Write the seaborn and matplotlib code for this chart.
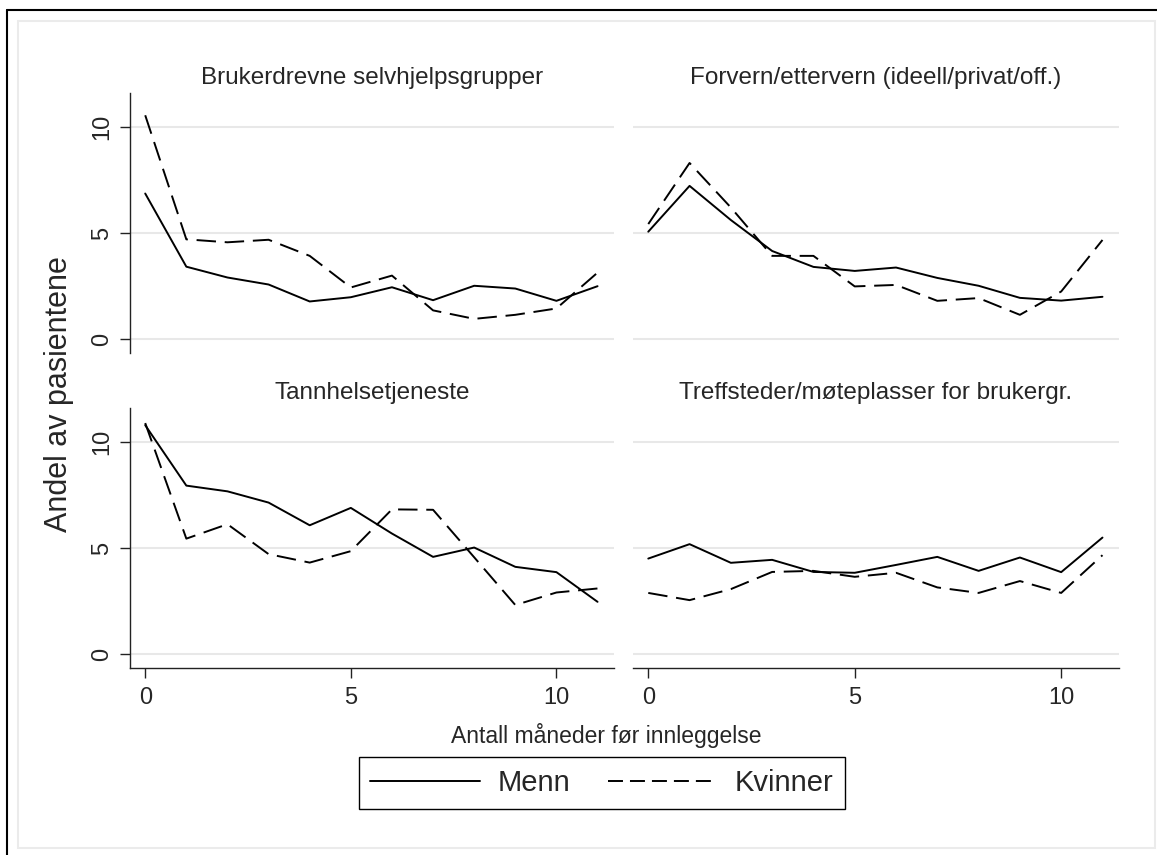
import pandas as pd
import numpy as np
import matplotlib
matplotlib.use('Agg')
import matplotlib.pyplot as plt
import seaborn as sns
from matplotlib.lines import Line2D
from matplotlib.patches import Rectangle

# --- data ---
months = list(range(12))
panel_titles = ['Brukerdrevne selvhjelpsgrupper',
                'Forvern/ettervern (ideell/privat/off.)',
                'Tannhelsetjeneste',
                'Treffsteder/møteplasser for brukergr.']
brukerdrevne_menn = [6.86, 3.41, 2.90, 2.57, 1.77, 1.97, 2.44, 1.83, 2.51, 2.38, 1.80, 2.49]
brukerdrevne_kvinner = [10.55, 4.70, 4.56, 4.68, 3.92, 2.43, 2.99, 1.35, 0.95, 1.14, 1.44, 3.13]
forvern_menn = [5.06, 7.22, 5.61, 4.15, 3.40, 3.21, 3.37, 2.88, 2.51, 1.94, 1.81, 1.99]
forvern_kvinner = [5.42, 8.30, 6.20, 3.92, 3.92, 2.48, 2.55, 1.80, 1.93, 1.14, 2.24, 4.67]
tannhelse_menn = [10.79, 7.94, 7.67, 7.14, 6.07, 6.89, 5.68, 4.58, 5.02, 4.11, 3.86, 2.46]
tannhelse_kvinner = [10.89, 5.44, 6.12, 4.71, 4.31, 4.85, 6.82, 6.80, 4.56, 2.31, 2.90, 3.09]
treffsteder_menn = [4.50, 5.18, 4.30, 4.44, 3.87, 3.83, 4.20, 4.58, 3.92, 4.55, 3.86, 5.49]
treffsteder_kvinner = [2.88, 2.54, 3.06, 3.87, 3.92, 3.64, 3.83, 3.14, 2.88, 3.44, 2.88, 4.66]
groups = ['Menn', 'Kvinner']
ytick_vals = [0, 5, 10]
xtick_vals = [0, 5, 10]

series = [(brukerdrevne_menn, brukerdrevne_kvinner),
          (forvern_menn, forvern_kvinner),
          (tannhelse_menn, tannhelse_kvinner),
          (treffsteder_menn, treffsteder_kvinner)]

sns.set_style('white')
plt.rcParams['font.family'] = ['Liberation Sans', 'DejaVu Sans']

W, H = 1157, 855
fig = plt.figure(figsize=(W / 100, H / 100), dpi=100)

# frame lines like the Stata export
fig.add_artist(Line2D([7 / W, 1], [1 - 10 / H, 1 - 10 / H], transform=fig.transFigure, color='black', lw=1.5))
fig.add_artist(Line2D([7 / W, 7 / W], [0, 1 - 10 / H], transform=fig.transFigure, color='black', lw=1.5))
fig.add_artist(Rectangle((18 / W, 1 - 848 / H), (1155 - 18) / W, (848 - 21) / H, transform=fig.transFigure,
                         fill=False, edgecolor='#ebebeb', lw=1.5))

# panel boxes in pixels: (left, top, right, bottom)
boxes = [(130, 93, 614, 353), (633, 93, 1119, 353),
         (130, 408, 614, 668), (633, 408, 1119, 668)]
dash_map = {'Menn': '', 'Kvinner': (10, 4.5)}

for i, (box, title, (menn, kvinner)) in enumerate(zip(boxes, panel_titles, series)):
    l, t, r, b = box
    ax = fig.add_axes([l / W, 1 - b / H, (r - l) / W, (b - t) / H])
    df = pd.DataFrame({'month': months * 2,
                       'andel': menn + kvinner,
                       'kjonn': ['Menn'] * len(months) + ['Kvinner'] * len(months)})
    sns.lineplot(data=df, x='month', y='andel', style='kjonn', style_order=groups,
                 dashes=dash_map, color='black', lw=1.4, legend=False, ax=ax)
    ax.set_xlim(-0.37, 11.4)
    ax.set_ylim(-0.66, 11.6)
    ax.set_yticks(ytick_vals)
    ax.set_xticks(xtick_vals)
    ax.yaxis.grid(True, color='#e8e8e8', lw=1.5)
    ax.xaxis.grid(False)
    ax.set_axisbelow(True)
    ax.set_xlabel('')
    ax.set_ylabel('')
    ax.set_title(title, fontsize=17.5, pad=6.5)
    for s in ['top', 'right', 'left', 'bottom']:
        ax.spines[s].set_visible(False)
    if i % 2 == 0:
        ax.spines['left'].set_visible(True)
        ax.spines['left'].set_color('#222222')
        ax.spines['left'].set_linewidth(1.0)
        ax.tick_params(axis='y', left=True, length=7, width=1.0, color='#222222',
                       labelsize=17, pad=5, labelrotation=90)
        for lab in ax.get_yticklabels():
            lab.set_va('center')
    else:
        ax.tick_params(axis='y', left=False, labelleft=False)
    if i >= 2:
        ax.spines['bottom'].set_visible(True)
        ax.spines['bottom'].set_color('#222222')
        ax.spines['bottom'].set_linewidth(1.0)
        ax.tick_params(axis='x', bottom=True, length=7, width=1.0, color='#222222',
                       labelsize=17, pad=7)
    else:
        ax.tick_params(axis='x', bottom=False, labelbottom=False)

fig.text(59 / W, 1 - 394 / H, 'Andel av pasientene', rotation=90, ha='center', va='center', fontsize=22)
fig.text(606 / W, 1 - 735 / H, 'Antall måneder før innleggelse', ha='center', va='center', fontsize=16.5)

handles = [Line2D([], [], color='black', lw=1.4),
           Line2D([], [], color='black', lw=1.4, dashes=(7.7, 3.6))]
leg = fig.legend(handles, groups, loc='center', bbox_to_anchor=(602 / W, 1 - 783 / H), ncol=2,
                 fontsize=21, handlelength=3.75, handletextpad=0.6, columnspacing=1.3,
                 borderpad=0.4, frameon=True, fancybox=False, edgecolor='black', framealpha=1)
leg.get_frame().set_linewidth(1.0)

plt.savefig('out.png', dpi=100)
